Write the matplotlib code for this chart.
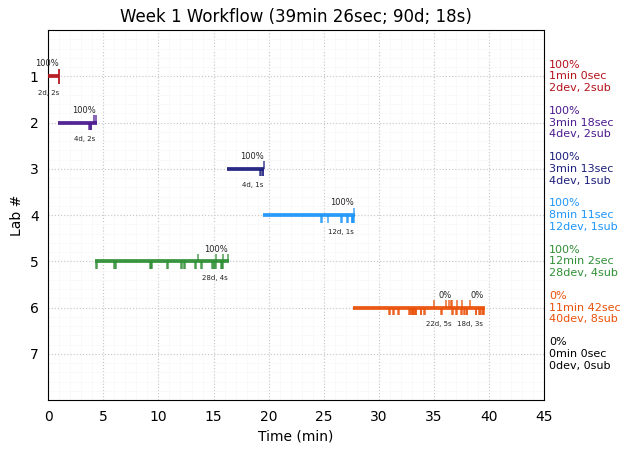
import matplotlib
matplotlib.use("Agg")
import matplotlib.pyplot as plt
from matplotlib.ticker import MultipleLocator

# lab sessions, times in minutes
labs = [1, 2, 3, 4, 5, 6, 7]
colors = ["#b5121b", "#4b1a8f", "#1d1f7e", "#1e96fa", "#2f8f35", "#ea5008", "black"]
starts = [0.0, 0.85, 16.25, 19.45, 4.25, 27.65]
ends = [1.0, 4.4, 19.6, 27.85, 16.45, 39.65]

devs = [
    [0.98, 1.0],
    [3.7, 3.75, 3.85, 3.9],
    [19.25, 19.3, 19.45, 19.5],
    [24.8, 24.85, 25.4, 26.6, 26.65, 27.15, 27.2, 27.55, 27.6, 27.65, 27.7, 27.75],
    [4.35, 4.4, 6.0, 6.05, 6.1, 9.25, 9.3, 9.35, 9.4, 10.8, 10.85, 12.05, 12.1, 12.35, 12.4, 13.35,
     13.4, 13.9, 13.95, 14.9, 14.95, 15.0, 15.15, 15.2, 15.7, 15.75, 15.8, 15.85],
    [30.95, 31.0, 31.3, 31.35, 31.8, 31.85, 32.8, 32.85, 32.95, 33.0, 33.1, 33.15, 33.25, 33.3, 33.35,
     33.4, 33.8, 33.85, 34.15, 34.2, 35.7, 35.75, 36.7, 36.75, 37.05, 37.1, 37.5, 37.55, 37.75, 37.8,
     38.0, 38.05, 38.8, 38.85, 39.15, 39.2, 39.3, 39.45, 39.5, 39.6],
]
subs = [
    [0.98, 1.0],
    [4.1, 4.35],
    [19.55],
    [27.8],
    [13.6, 15.25, 15.85, 16.35],
    [35.05, 36.15, 36.4, 36.55, 36.7, 37.15, 37.6, 38.25],
]

# text above / below each group of marks: x, label
top_labels = [
    [(-0.1, "100%")],
    [(3.25, "100%")],
    [(18.45, "100%")],
    [(26.65, "100%")],
    [(15.2, "100%")],
    [(36.0, "0%"), (38.9, "0%")],
]
bottom_labels = [
    [(0.0, "2d, 2s")],
    [(3.3, "4d, 2s")],
    [(18.55, "4d, 1s")],
    [(26.6, "12d, 1s")],
    [(15.1, "28d, 4s")],
    [(35.45, "22d, 5s"), (38.3, "18d, 3s")],
]
side_labels = [
    "100%\n1min 0sec\n2dev, 2sub",
    "100%\n3min 18sec\n4dev, 2sub",
    "100%\n3min 13sec\n4dev, 1sub",
    "100%\n8min 11sec\n12dev, 1sub",
    "100%\n12min 2sec\n28dev, 4sub",
    "0%\n11min 42sec\n40dev, 8sub",
    "0%\n0min 0sec\n0dev, 0sub",
]

fig, ax = plt.subplots(figsize=(6.3, 4.53), dpi=100)
fig.subplots_adjust(left=0.0768, right=0.8632, top=0.9338, bottom=0.1165)

for i in range(len(starts)):
    y = labs[i]
    c = colors[i]
    ax.hlines(y, starts[i], ends[i], color=c, lw=2.7, alpha=0.95, zorder=3)
    ax.vlines(devs[i], y, y + 0.16, color=c, lw=1.1, alpha=0.85, zorder=3)
    ax.vlines(subs[i], y - 0.16, y, color=c, lw=1.1, alpha=0.85, zorder=3)
    for x, s in top_labels[i]:
        ax.text(x, y - 0.17, s, fontsize=6, ha="center", va="bottom", color="#222222")
    for x, s in bottom_labels[i]:
        ax.text(x, y + 0.29, s, fontsize=5, ha="center", va="top", color="#222222")

for y, s, c in zip(labs, side_labels, colors):
    ax.text(1.01, y, s, transform=ax.get_yaxis_transform(), fontsize=8, color=c,
            va="center", ha="left", linespacing=1.22)

ax.set_xlim(0, 45)
ax.set_ylim(8, 0)
ax.set_yticks(labs)
ax.xaxis.set_major_locator(MultipleLocator(5))
ax.xaxis.set_minor_locator(MultipleLocator(1))
ax.yaxis.set_minor_locator(MultipleLocator(0.2))
ax.grid(which="major", color="#c8c8c8", ls=":", lw=0.85)
ax.grid(which="minor", color="#f9f9f9", ls="-", lw=0.6)
ax.set_axisbelow(True)
ax.tick_params(which="both", length=0)
ax.tick_params(axis="both", pad=7)
ax.set_title("Week 1 Workflow (39min 26sec; 90d; 18s)", fontsize=12)
ax.set_xlabel("Time (min)")
ax.set_ylabel("Lab #")

plt.savefig("out.png", dpi=100)
